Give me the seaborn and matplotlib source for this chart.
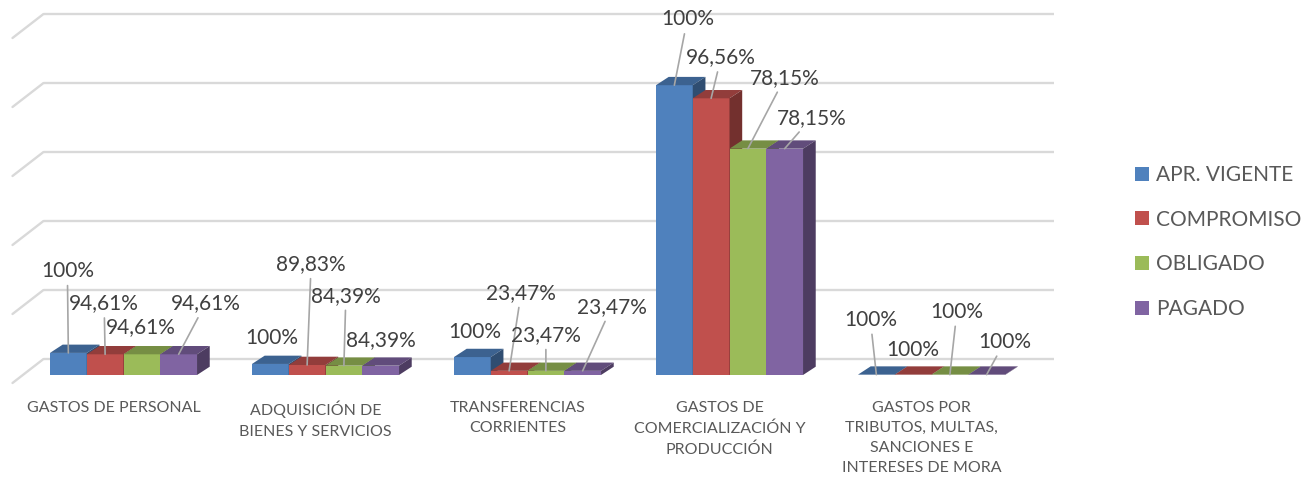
import matplotlib
matplotlib.use('Agg')
import matplotlib.pyplot as plt
import matplotlib.colors as mcolors
from matplotlib.patches import Polygon
import seaborn as sns
import pandas as pd
import numpy as np

sns.set_theme(style="white")
plt.rcParams['font.family'] = ['Lato', 'DejaVu Sans']

# Data (bar heights, gridline step = 1 unit)
categorias = ['GASTOS DE PERSONAL',
              'ADQUISICIÓN DE\nBIENES Y SERVICIOS',
              'TRANSFERENCIAS\nCORRIENTES',
              'GASTOS DE\nCOMERCIALIZACIÓN Y\nPRODUCCIÓN',
              'GASTOS POR\nTRIBUTOS, MULTAS,\nSANCIONES E\nINTERESES DE MORA']
series = ['APR. VIGENTE', 'COMPROMISO', 'OBLIGADO', 'PAGADO']
apr_vigente = [0.32, 0.16, 0.26, 4.20, 0.005]
compromiso = [0.30, 0.145, 0.06, 4.01, 0.005]
obligado = [0.30, 0.135, 0.06, 3.28, 0.005]
pagado = [0.30, 0.135, 0.06, 3.28, 0.005]

pct_apr = ['100%', '100%', '100%', '100%', '100%']
pct_comp = ['94,61%', '89,83%', '23,47%', '96,56%', '100%']
pct_obl = ['94,61%', '84,39%', '23,47%', '78,15%', '100%']
pct_pag = ['94,61%', '84,39%', '23,47%', '78,15%', '100%']

# label placement (pixel offsets from bar top, leader line on/off)
off_apr = [(-1, 82, True), (1, 26, False), (2, 25, False), (13, 66, True), (-6, 55, True)]
off_comp = [(-1, 51, True), (4, 101, True), (12, 78, True), (10, 41, True), (0, 25, False)]
off_obl = [(-1, 27, False), (2, 70, True), (0, 36, True), (37, 71, True), (7, 63, True)]
off_pag = [(27, 51, True), (0, 26, False), (29, 64, True), (27, 31, True), (18, 33, True)]

colors = ['#4f81bd', '#c0504d', '#9bbb59', '#8064a2']

df = pd.DataFrame({
    'categoria': categorias * 4,
    'serie': np.repeat(series, len(categorias)),
    'valor': apr_vigente + compromiso + obligado + pagado,
})

W, H = 1301, 482
fig = plt.figure(figsize=(W / 100, H / 100), dpi=100)
ax_w, ax_h = 1010, 345
ax = fig.add_axes([22.5 / W, (H - 375) / H, ax_w / W, ax_h / H])

sns.barplot(data=df, x='categoria', y='valor', hue='serie', palette=colors,
            width=0.728, saturation=1, errorbar=None, linewidth=0, ax=ax)

ax.set_xlim(-0.5, 4.5)
ax.set_ylim(0, 5)
PX_X = ax_w / 5.0
PX_Y = ax_h / 5.0


def px(dx, dy):
    return dx / PX_X, dy / PX_Y


# 3D-like gridlines: back wall lines plus diagonal floor edge
gdx_b, gdy_b = px(21, 16)
gdx_f, gdy_f = px(-10, -8)
for k in range(6):
    ax.plot([-0.5 + gdx_b, 4.5 + gdx_b], [k + gdy_b, k + gdy_b], color='#d9d9d9',
            lw=1.7, zorder=0.5, clip_on=False, solid_capstyle='butt')
    ax.plot([-0.5 + gdx_f, -0.5 + gdx_b], [k + gdy_f, k + gdy_b], color='#d9d9d9',
            lw=1.7, zorder=0.5, clip_on=False)

# bar depth faces
ddx, ddy = px(12.7, 8.3)
offsets = [off_apr, off_comp, off_obl, off_pag]
pcts = [pct_apr, pct_comp, pct_obl, pct_pag]
for j, cont in enumerate(ax.containers):
    base = np.array(mcolors.to_rgb(colors[j]))
    top_c = base * 0.76
    side_c = base * 0.6
    for i, bar in enumerate(cont):
        bar.set_zorder(3 + j)
        x0 = bar.get_x()
        x1 = x0 + bar.get_width()
        h = bar.get_height()
        top = Polygon([(x0, h), (x1, h), (x1 + ddx, h + ddy), (x0 + ddx, h + ddy)],
                      closed=True, facecolor=top_c, edgecolor='none', zorder=3 + j,
                      clip_on=False)
        side = Polygon([(x1, 0), (x1 + ddx, ddy), (x1 + ddx, h + ddy), (x1, h)],
                       closed=True, facecolor=side_c, edgecolor='none', zorder=3 + j,
                       clip_on=False)
        ax.add_patch(top)
        ax.add_patch(side)

        dx, dy, line = offsets[j][i]
        cx = x0 + bar.get_width() / 2
        arrow = dict(arrowstyle='-', color='#a6a6a6', lw=1.2, shrinkA=1, shrinkB=0) if line else None
        ax.annotate(pcts[j][i], xy=(cx, h), xytext=(dx, dy), textcoords='offset pixels',
                    ha='center', va='center', fontsize=15, color='#404040',
                    arrowprops=arrow, zorder=12, annotation_clip=False)

# category labels on the floor front edge
for i, cat in enumerate(categorias):
    ax.text(i - 10 / PX_X, -26 / PX_Y, cat, ha='center', va='top', fontsize=11.5,
            color='#595959', linespacing=1.55)

ax.set_xticks([])
ax.set_yticks([])
ax.set_xlabel('')
ax.set_ylabel('')
for s in ax.spines.values():
    s.set_visible(False)
ax.patch.set_alpha(0)

handles, labels = ax.get_legend_handles_labels()
if ax.get_legend() is not None:
    ax.get_legend().remove()
fig.legend(handles, labels, loc='center left', bbox_to_anchor=(1135 / W, (H - 242) / H),
           frameon=False, fontsize=15, handlelength=0.65, handleheight=0.65,
           handletextpad=0.35, labelspacing=1.18, borderpad=0, borderaxespad=0,
           labelcolor='#595959')

fig.savefig('out.png', dpi=100)
